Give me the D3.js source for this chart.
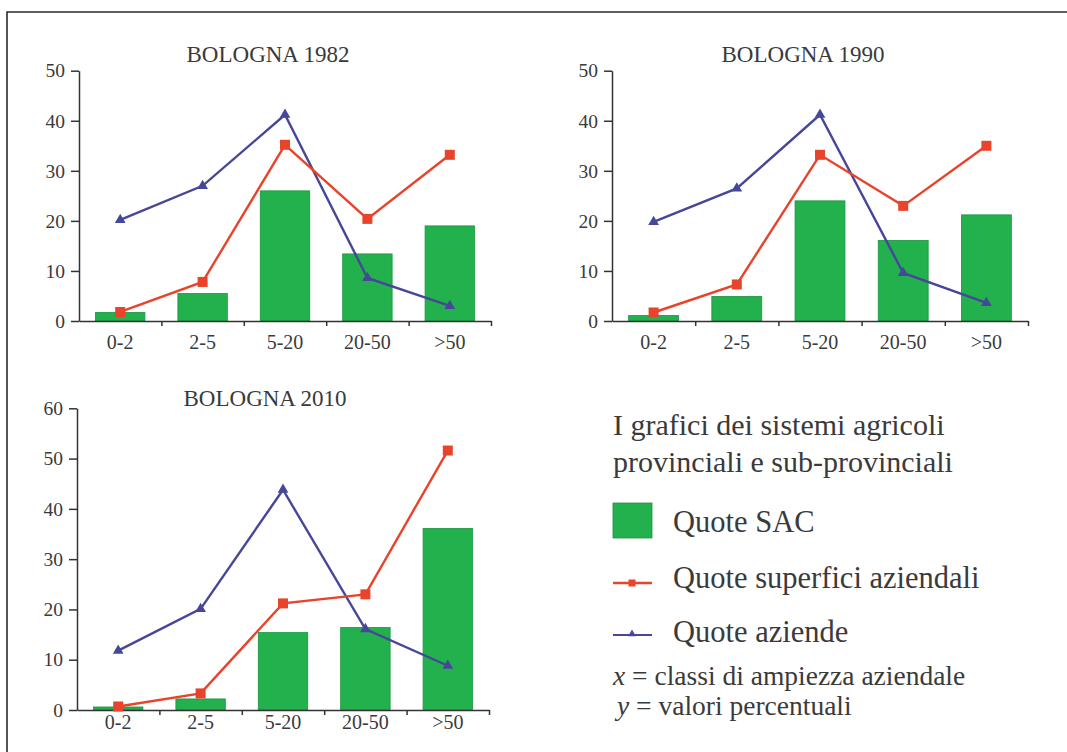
<!DOCTYPE html>
<html>
<head>
<meta charset="utf-8">
<script src="https://cdn.jsdelivr.net/npm/d3@7"></script>
<style>
  html, body { margin: 0; padding: 0; background: #fff; }
  svg { display: block; }
</style>
</head>
<body>
<svg id="chart" width="1067" height="752"></svg>
<script>
// Size classes of farms (hectares)
const categories = ["0-2", "2-5", "5-20", "20-50", ">50"];

// BOLOGNA 1982
const sac1982 = [1.7, 5.5, 26.0, 13.4, 19.0];
const superfici1982 = [1.8, 7.8, 35.2, 20.4, 33.2];
const aziende1982 = [20.2, 27.0, 41.2, 8.6, 3.0];

// BOLOGNA 1990
const sac1990 = [1.1, 4.9, 24.0, 16.1, 21.2];
const superfici1990 = [1.7, 7.3, 33.2, 23.0, 35.0];
const aziende1990 = [19.8, 26.5, 41.2, 9.6, 3.6];

// BOLOGNA 2010
const sac2010 = [0.6, 2.2, 15.4, 16.4, 36.1];
const superfici2010 = [0.7, 3.3, 21.2, 23.0, 51.6];
const aziende2010 = [11.8, 20.1, 43.8, 16.1, 8.8];

const ticks50 = [0, 10, 20, 30, 40, 50];
const ticks60 = [0, 10, 20, 30, 40, 50, 60];

const FONT = "Liberation Serif";
const TEXT = "#3a3a3a";
const COLORS = { bar: "#22b14c", barEdge: "#1a9640", sup: "#e8432b", az: "#474799", axis: "#333" };

const svg = d3.select("#chart");

// page frame (top and left rules)
svg.append("path")
  .attr("d", "M7,752 L7,12 L1067,12")
  .attr("fill", "none").attr("stroke", "#2a2a2a").attr("stroke-width", 1.6);

const panels = [
  { title: "BOLOGNA 1982", sac: sac1982, sup: superfici1982, az: aziende1982, ticks: ticks50,
    x0: 79, x1: 491, yTop: 70.7, yBot: 321, titleX: 268, titleY: 62, labelDy: 28 },
  { title: "BOLOGNA 1990", sac: sac1990, sup: superfici1990, az: aziende1990, ticks: ticks50,
    x0: 612, x1: 1028, yTop: 70.7, yBot: 321, titleX: 803, titleY: 62, labelDy: 28 },
  { title: "BOLOGNA 2010", sac: sac2010, sup: superfici2010, az: aziende2010, ticks: ticks60,
    x0: 77, x1: 489, yTop: 408.3, yBot: 710, titleX: 265, titleY: 406, labelDy: 19 }
];

const triangle = d3.symbol().type(d3.symbolTriangle).size(50);

panels.forEach(p => {
  const g = svg.append("g");
  const x = d3.scaleBand().domain(categories).range([p.x0, p.x1]).paddingInner(0.4).paddingOuter(0.2);
  const y = d3.scaleLinear().domain([0, d3.max(p.ticks)]).range([p.yBot, p.yTop]);
  const cx = c => x(c) + x.bandwidth() / 2;

  // title
  g.append("text").attr("x", p.titleX).attr("y", p.titleY)
    .attr("text-anchor", "middle").style("font-size", "23px").text(p.title);

  // bars
  g.selectAll("rect.bar").data(categories).join("rect").attr("class", "bar")
    .attr("x", c => x(c)).attr("width", x.bandwidth())
    .attr("y", (c, i) => y(p.sac[i])).attr("height", (c, i) => y(0) - y(p.sac[i]))
    .attr("fill", COLORS.bar).attr("stroke", COLORS.barEdge).attr("stroke-width", 0.8);

  // y axis
  const yAxis = g.append("g").attr("transform", `translate(${p.x0},0)`)
    .call(d3.axisLeft(y).tickValues(p.ticks).tickSize(8).tickSizeOuter(0).tickPadding(6));
  yAxis.selectAll("path, line").attr("stroke", COLORS.axis).attr("stroke-width", 1.5);
  yAxis.selectAll("text").style("font-size", "19.5px");

  // x axis: baseline with ticks at class boundaries
  const xb = d3.scaleLinear().domain([0, categories.length]).range([p.x0, p.x1]);
  const xAxis = g.append("g").attr("transform", `translate(0,${p.yBot})`)
    .call(d3.axisBottom(xb).tickValues(d3.range(1, categories.length + 1)).tickSize(5).tickSizeOuter(0).tickFormat(""));
  xAxis.selectAll("path, line").attr("stroke", COLORS.axis).attr("stroke-width", 1.5);

  g.selectAll("text.xl").data(categories).join("text").attr("class", "xl")
    .attr("x", cx).attr("y", p.yBot + p.labelDy)
    .attr("text-anchor", "middle").style("font-size", "20px").text(c => c);

  // lines
  const line = vals => d3.line().x((c, i) => cx(c)).y((c, i) => y(vals[i]))(categories);
  g.append("path").attr("d", line(p.az)).attr("fill", "none")
    .attr("stroke", COLORS.az).attr("stroke-width", 2.4);
  g.append("path").attr("d", line(p.sup)).attr("fill", "none")
    .attr("stroke", COLORS.sup).attr("stroke-width", 2.4);

  // markers
  g.selectAll("path.tri").data(categories).join("path").attr("class", "tri")
    .attr("d", triangle)
    .attr("transform", (c, i) => `translate(${cx(c)},${y(p.az[i])})`)
    .attr("fill", COLORS.az);
  g.selectAll("rect.sq").data(categories).join("rect").attr("class", "sq")
    .attr("x", c => cx(c) - 5).attr("y", (c, i) => y(p.sup[i]) - 5)
    .attr("width", 10).attr("height", 10).attr("fill", COLORS.sup);
});

// legend
const lg = svg.append("g");
lg.append("text").attr("x", 613).attr("y", 435).style("font-size", "30px").text("I grafici dei sistemi agricoli");
lg.append("text").attr("x", 613).attr("y", 472).style("font-size", "30px").text("provinciali e sub-provinciali");

lg.append("rect").attr("x", 613).attr("y", 503).attr("width", 39).attr("height", 35)
  .attr("fill", COLORS.bar).attr("stroke", COLORS.barEdge).attr("stroke-width", 0.8);
lg.append("text").attr("x", 673).attr("y", 532).style("font-size", "30.5px").text("Quote SAC");

lg.append("line").attr("x1", 613).attr("x2", 652).attr("y1", 583).attr("y2", 583)
  .attr("stroke", COLORS.sup).attr("stroke-width", 2.4);
lg.append("rect").attr("x", 628.5).attr("y", 579.5).attr("width", 7).attr("height", 7).attr("fill", COLORS.sup);
lg.append("text").attr("x", 673).attr("y", 588).style("font-size", "30.5px").text("Quote superfici aziendali");

lg.append("line").attr("x1", 613).attr("x2", 652).attr("y1", 635).attr("y2", 635)
  .attr("stroke", COLORS.az).attr("stroke-width", 2.2);
lg.append("path").attr("d", d3.symbol().type(d3.symbolTriangle).size(26))
  .attr("transform", "translate(632,634)").attr("fill", COLORS.az);
lg.append("text").attr("x", 673).attr("y", 642).style("font-size", "30.5px").text("Quote aziende");

const t1 = lg.append("text").attr("x", 613).attr("y", 685).style("font-size", "27.5px");
t1.append("tspan").style("font-style", "italic").text("x");
t1.append("tspan").text(" = classi di ampiezza aziendale");
const t2 = lg.append("text").attr("x", 617).attr("y", 715).style("font-size", "27.5px");
t2.append("tspan").style("font-style", "italic").text("y");
t2.append("tspan").text(" = valori percentuali");

// serif face and text colour for every label
svg.selectAll("text").attr("font-family", FONT).style("font-family", FONT).attr("fill", TEXT).style("fill", TEXT);
</script>
</body>
</html>
